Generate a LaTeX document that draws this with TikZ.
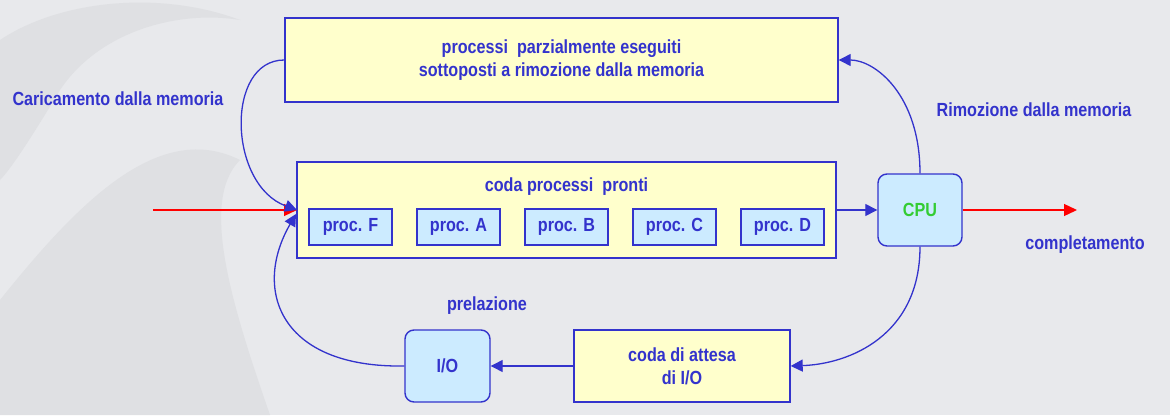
\documentclass[tikz,border=0pt]{standalone}
\usepackage{fontspec}
\setmainfont{Liberation Sans}[FakeStretch=0.85]
\usetikzlibrary{arrows.meta}
\definecolor{bg}{HTML}{E8E9EC}
\definecolor{swirl}{HTML}{DFE0E3}
\definecolor{lineblue}{HTML}{3333CC}
\definecolor{yellowfill}{HTML}{FFFFCC}
\definecolor{bluefill}{HTML}{CCEBFF}
\definecolor{cpugreen}{HTML}{33CC33}
\tikzset{
  every node/.style={font=\fontsize{19}{23}\selectfont\bfseries, text=lineblue, align=center},
  ybox/.style={draw=lineblue, line width=1.4pt, fill=yellowfill, inner sep=0pt},
  pbox/.style={draw=lineblue, line width=1.4pt, fill=bluefill, minimum width=83pt, minimum height=36pt, inner sep=0pt},
  rbox/.style={draw=lineblue, line width=1.4pt, fill=bluefill, rounded corners=9pt, inner sep=0pt},
  conn/.style={draw=lineblue, line width=1.3pt, -{Triangle[length=12pt,width=12pt]}},
  redconn/.style={draw=red, line width=1.3pt, -{Triangle[length=13pt,width=12pt]}}
}
\begin{document}
\begin{tikzpicture}[x=1pt,y=-1pt]
\fill[bg] (0,0) rectangle (1170,415);
\useasboundingbox (0,0) rectangle (1170,415);
% decorative swirl
\fill[swirl] (0,40) .. controls (60,0) and (160,-10) .. (240,20) .. controls (180,10) and (100,30) .. (60,90) .. controls (30,140) and (10,170) .. (0,180) -- cycle;
\fill[swirl] (0,300) .. controls (80,200) and (160,120) .. (240,160) .. controls (200,200) and (230,300) .. (270,415) -- (0,415) -- cycle;

% nodes
\node[ybox, minimum width=553pt, minimum height=84pt] (top) at (561.5,60) {processi\ \ parzialmente eseguiti\\sottoposti a rimozione dalla memoria};
\node[ybox, minimum width=539pt, minimum height=96pt] (queue) at (566.5,210) {};
\node (qtitle) at (566.5,187) {coda processi\ \ pronti};
\node[pbox] (pF) at (350.5,227) {proc. F};
\node[pbox] (pA) at (458.5,227) {proc. A};
\node[pbox] (pB) at (566.5,227) {proc. B};
\node[pbox] (pC) at (674.5,227) {proc. C};
\node[pbox] (pD) at (782.5,227) {proc. D};
\node[rbox, minimum width=84pt, minimum height=72pt, text=cpugreen] (cpu) at (920,210) {CPU};
\node[rbox, minimum width=85pt, minimum height=72pt] (io) at (447.5,366) {I/O};
\node[ybox, minimum width=216pt, minimum height=72pt] (wait) at (682,366) {coda di attesa\\di I/O};

% labels
\node (lcar) at (118,99) {Caricamento dalla memoria};
\node (lrim) at (1034,110) {Rimozione dalla memoria};
\node (lcomp) at (1085,245) {completamento};
\node (lprel) at (487,306) {prelazione};

% connectors
\coordinate (inL) at (153,210);
\coordinate (outR) at (1077,210);
\coordinate (qin) at (297,210);
\coordinate (qin2) at (296,214);
\draw[redconn] (inL) -- (qin);
\draw[redconn] (cpu.east) -- (outR);
\draw[conn] (queue.east) -- (cpu.west);
\draw[conn] (wait.west) -- (io.east);
\draw[conn] (top.west) .. controls (225,60) and (228,185) .. (qin);
\draw[conn] (io.west) .. controls (280,368) and (252,290) .. (qin2);
\draw[conn] (cpu.south) .. controls (920,335) and (850,364) .. (wait.east);
\draw[conn] (cpu.north) .. controls (920,95) and (875,60) .. (top.east);
\end{tikzpicture}
\end{document}
